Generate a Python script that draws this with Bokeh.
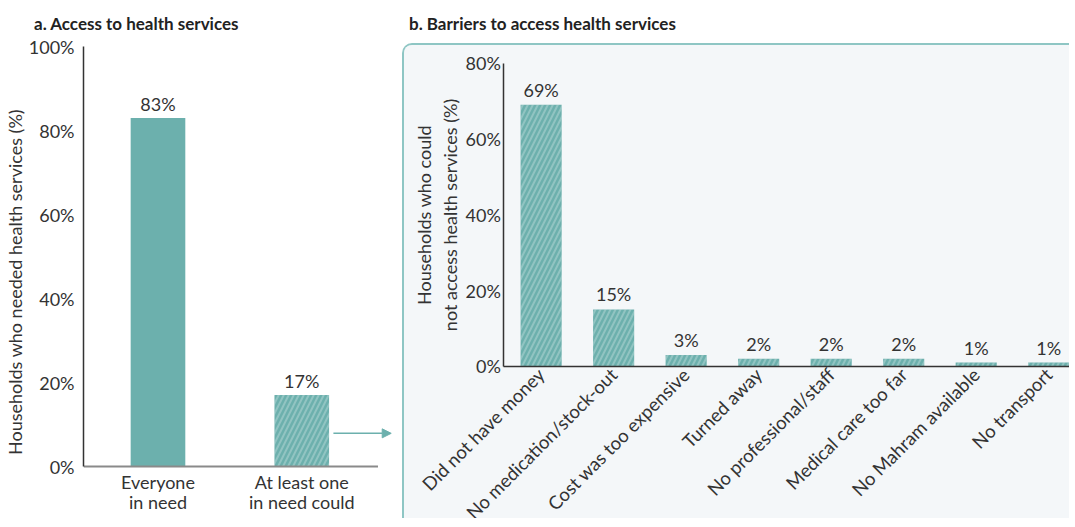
import math
from bokeh.plotting import figure
from bokeh.core.properties import value
from bokeh.models import (Range1d, FixedTicker, PrintfTickFormatter,
                          ColumnDataSource, Arrow, NormalHead, Div)
from bokeh.layouts import row, column
from bokeh.embed import file_html
from bokeh.resources import INLINE

FONT = "Lato"
TEAL = "#6cb0ad"
TEXT = "#333333"
PANEL_BG = "#f4f7f9"
PANEL_BORDER = "#8ec6c4"

# ---------------- data ----------------
title_a = "a. Access to health services"
title_b = "b. Barriers to access health services"

access_categories = ["Everyone\nin need\ncould access",
                     "At least one\nin need could\nnot access"]
access_values = [83, 17]
access_hatch = [" ", "/"]
access_ylabel = "Households who needed health services (%)"
access_ticks = [0, 20, 40, 60, 80, 100]

barrier_categories = ["Did not have money", "No medication/stock-out",
                      "Cost was too expensive", "Turned away",
                      "No professional/staff", "Medical care too far",
                      "No Mahram available", "No transport"]
barrier_values = [69, 15, 3, 2, 2, 2, 1, 1]
barrier_ylabel = "Households who could\nnot access health services (%)"
barrier_ticks = [0, 20, 40, 60, 80]


def style_axis(ax, size="18px"):
    ax.major_tick_line_color = None
    ax.minor_tick_line_color = None
    ax.major_tick_out = 0
    ax.major_tick_in = 0
    ax.minor_tick_out = 0
    ax.major_label_text_font = FONT
    ax.major_label_text_color = TEXT
    ax.major_label_text_font_size = size
    ax.axis_label_text_font = FONT
    ax.axis_label_text_font_style = "normal"
    ax.axis_label_text_color = TEXT
    ax.axis_label_text_font_size = "18px"


def title_div(text, width, height, left, top):
    return Div(text=(f'<div style="margin:{top}px 0 0 {left}px;font-family:{FONT};'
                     f'font-weight:bold;font-size:17px;line-height:20px;color:#222;'
                     f'white-space:nowrap">{text}</div>'),
               width=width, height=height)


# ---------------- panel a ----------------
idx_a = list(range(len(access_categories)))
src_a = ColumnDataSource(dict(
    x=idx_a, val=access_values, hatch=access_hatch,
    lab=[f"{v}%" for v in access_values]))

# one row per text line of each category label
lx, ltxt, loff = [], [], []
for i, c in zip(idx_a, access_categories):
    for j, line in enumerate(c.split("\n")):
        lx.append(i)
        ltxt.append(line)
        loff.append(15 + 20.5 * j)
src_a_lab = ColumnDataSource(dict(x=lx, y=[0] * len(lx), text=ltxt, off=loff))

xa0, xa1 = -0.518, 1.631
pa = figure(width=392, height=482, x_axis_location=None,
            x_range=Range1d(xa0, xa1), y_range=Range1d(-12.14, 100),
            output_backend="svg", toolbar_location=None,
            min_border_left=80, min_border_right=0,
            min_border_top=11, min_border_bottom=0,
            outline_line_color=None)
pa.xgrid.grid_line_color = None
pa.ygrid.grid_line_color = None
pa.vbar(x="x", top="val", width=0.38, source=src_a, fill_color=TEAL,
        line_color=None, hatch_pattern="hatch", hatch_color="white",
        hatch_alpha=0.25, hatch_scale=10, hatch_weight=2)
style_axis(pa.yaxis[0])
pa.yaxis.ticker = FixedTicker(ticks=access_ticks)
pa.yaxis.formatter = PrintfTickFormatter(format="%d%%")
pa.yaxis.bounds = (0, 100)
pa.yaxis.axis_line_color = "#333333"
pa.yaxis.axis_line_width = 1.5
pa.yaxis.major_label_standoff = 9
pa.yaxis.axis_label = access_ylabel
pa.yaxis.axis_label_standoff = 0
# baseline of panel a (ends just past the last category slot)
pa.segment(x0=[xa0], y0=[0], x1=[len(access_categories) - 0.47], y1=[0],
           line_color="#8a8a8a", line_width=2)
pa.text(x="x", y="val", text="lab", source=src_a, y_offset=-3,
        text_align="center", text_baseline="bottom",
        text_font=value(FONT), text_font_size="18px", text_color=TEXT)
pa.text(x="x", y="y", text="text", y_offset="off", source=src_a_lab,
        text_align="center", text_baseline="middle",
        text_font=value(FONT), text_font_size="18px", text_color=TEXT)
pa.add_layout(Arrow(x_start=1.22, y_start=7.9, x_end=1.622, y_end=7.9,
                    line_color=TEAL, line_width=1.5,
                    end=NormalHead(size=9, fill_color=TEAL, line_color=TEAL)))

# ---------------- panel b ----------------
idx = list(range(len(barrier_categories)))
src_b = ColumnDataSource(dict(
    x=idx, val=barrier_values, lab=[f"{v}%" for v in barrier_values]))

xb_axis = -0.514          # where the value axis sits
xb0, xb1 = -1.884, 7.314  # visible x extent of the panel
pb = figure(width=667, height=475,
            x_range=Range1d(xb0, xb1), y_range=Range1d(-40.66, 84.64),
            output_backend="svg", toolbar_location=None,
            min_border_left=0, min_border_right=0,
            min_border_top=0, min_border_bottom=0,
            outline_line_color=None,
            background_fill_color=PANEL_BG, border_fill_color=PANEL_BG,
            styles={"border-top": f"2px solid {PANEL_BORDER}",
                    "border-left": f"2px solid {PANEL_BORDER}",
                    "border-top-left-radius": "10px",
                    "overflow": "hidden",
                    "box-sizing": "border-box",
                    "background-color": PANEL_BG})
pb.xgrid.grid_line_color = None
pb.ygrid.grid_line_color = None
pb.vbar(x="x", top="val", width=0.567, source=src_b, fill_color=TEAL,
        line_color=None, hatch_pattern="/", hatch_color="white",
        hatch_alpha=0.25, hatch_scale=10, hatch_weight=2)
style_axis(pb.xaxis[0], "18.5px")
style_axis(pb.yaxis[0])
pb.yaxis.fixed_location = xb_axis
pb.yaxis.bounds = (0, 80)
pb.yaxis.ticker = FixedTicker(ticks=barrier_ticks)
pb.yaxis.formatter = PrintfTickFormatter(format="%d%%")
pb.yaxis.axis_line_color = "#333333"
pb.yaxis.axis_line_width = 1.5
pb.yaxis.major_label_standoff = 3
pb.yaxis.axis_label = barrier_ylabel
pb.yaxis.axis_label_standoff = 1
pb.xaxis.fixed_location = 0
pb.xaxis.bounds = (xb_axis, xb1)
pb.xaxis.axis_line_color = "#333333"
pb.xaxis.axis_line_width = 1.5
pb.xaxis.ticker = FixedTicker(ticks=idx)
pb.xaxis.major_label_overrides = {i: c for i, c in zip(idx, barrier_categories)}
pb.xaxis.major_label_orientation = math.pi / 4
pb.xaxis.major_label_standoff = 5
pb.text(x="x", y="val", text="lab", source=src_b, y_offset=-4,
        text_align="center", text_baseline="bottom",
        text_font=value(FONT), text_font_size="18px", text_color=TEXT)

layout = row(column(title_div(title_a, 392, 25, 29, 9), pa),
             column(title_div(title_b, 667, 33, 2, 9), pb))

open("out.html", "w").write(file_html(layout, INLINE))
